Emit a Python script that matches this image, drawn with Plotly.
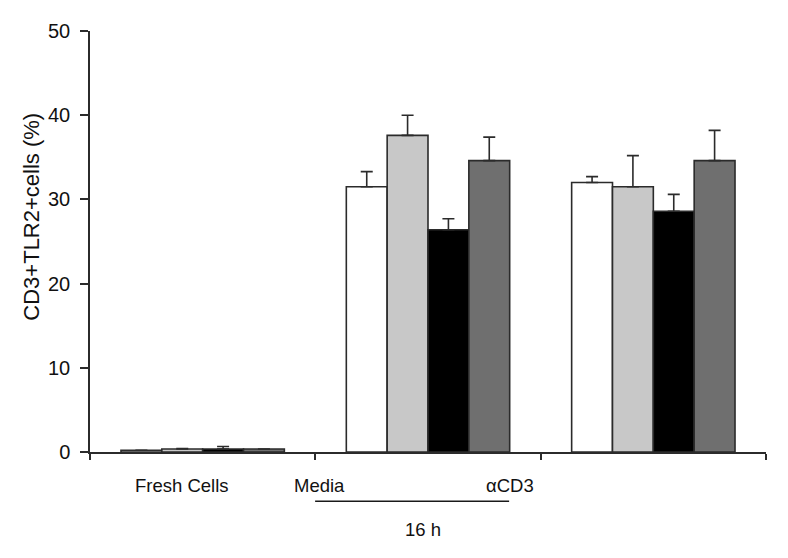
import plotly.graph_objects as go

categories = ["Fresh Cells", "Media", "αCD3"]
series_names = ["Series 1", "Series 2", "Series 3", "Series 4"]
series_values = [
    [0.2, 31.5, 32.0],
    [0.35, 37.6, 31.5],
    [0.35, 26.4, 28.6],
    [0.35, 34.6, 34.6],
]
series_errors = [
    [0.0, 1.8, 0.7],
    [0.05, 2.4, 3.7],
    [0.3, 1.3, 2.0],
    [0.0, 2.8, 3.6],
]
series_colors = ["#ffffff", "#c8c8c8", "#000000", "#6f6f6f"]
y_ticks = [0, 10, 20, 30, 40, 50]
y_title = "CD3+TLR2+cells (%)"
group_label = "16 h"

FAM = "Liberation Sans, Arial, sans-serif"
FONT = dict(family=FAM, size=18.5, color="#111111")
TICKFONT = dict(family=FAM, size=20, color="#111111")
TITLEFONT = dict(family=FAM, size=22, color="#111111")
EDGE = "#2b2b2b"

fig = go.Figure()
for name, vals, errs, col in zip(series_names, series_values, series_errors, series_colors):
    fig.add_trace(go.Bar(
        x=categories, y=vals, name=name,
        marker=dict(color=col, line=dict(color=EDGE, width=1.6)),
        error_y=dict(type="data", array=errs, arrayminus=[0] * len(errs),
                     symmetric=False, color=EDGE, thickness=1.6, width=6),
    ))

fig.update_layout(
    width=780, height=550,
    margin=dict(l=82, r=22, t=18, b=106),
    paper_bgcolor="white", plot_bgcolor="white",
    barmode="group", bargap=0.275, bargroupgap=0,
    showlegend=False,
    font=FONT,
)
fig.update_xaxes(
    type="category", categoryorder="array", categoryarray=categories,
    range=[-0.5, 2.5], showticklabels=False,
    ticks="outside", tickson="boundaries", ticklen=6, tickwidth=1.5, tickcolor=EDGE,
    showline=True, linecolor=EDGE, linewidth=1.5, showgrid=False, zeroline=False,
)
fig.update_yaxes(
    range=[0, 50], tickvals=y_ticks, ticks="outside", ticklen=8, tickwidth=1.5,
    tickcolor=EDGE, showline=True, linecolor=EDGE, linewidth=1.5,
    showgrid=False, zeroline=False, tickfont=TICKFONT, ticklabelstandoff=6,
)

# y-axis title (placed slightly above centre, as in the original)
fig.add_annotation(x=-0.0858, y=0.559, xref="paper", yref="paper", text=y_title,
                   textangle=-90, showarrow=False, font=TITLEFONT,
                   xanchor="center", yanchor="middle")

label_pos = [-0.092, 0.52, 1.364]
for cat, xp in zip(categories, label_pos):
    fig.add_annotation(x=xp, y=-0.08, xref="x", yref="paper", text=cat,
                       showarrow=False, font=FONT, xanchor="center", yanchor="middle")
fig.add_shape(type="line", xref="x", yref="paper", x0=0.499, x1=1.36,
              y0=-0.117, y1=-0.117, line=dict(color="#1a1a1a", width=1.6))
fig.add_annotation(x=0.978, y=-0.185, xref="x", yref="paper", text=group_label,
                   showarrow=False, font=FONT, xanchor="center", yanchor="middle")

fig.write_html("out.html")
